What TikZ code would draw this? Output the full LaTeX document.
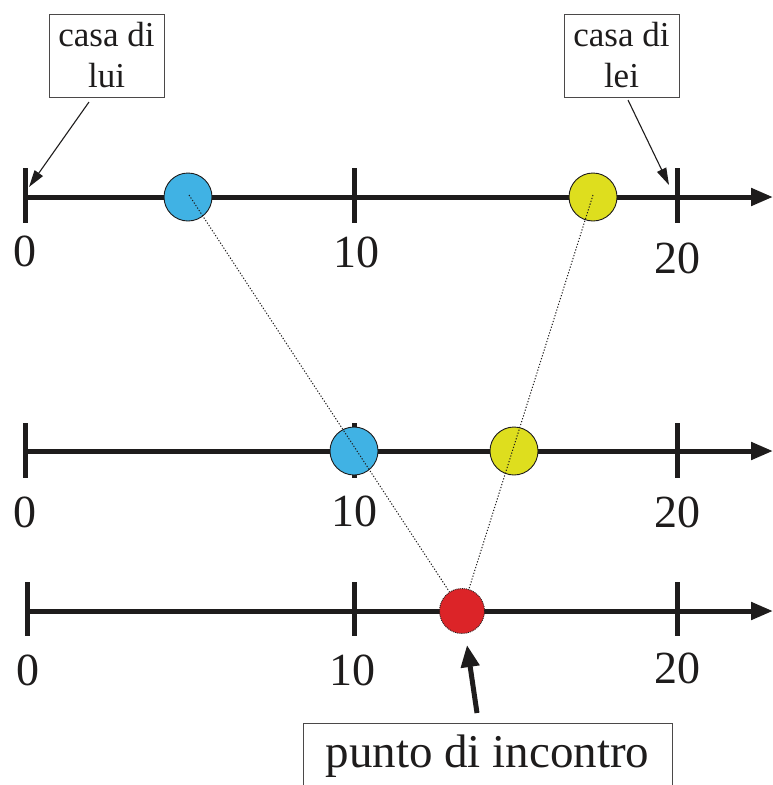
\documentclass[tikz,border=0pt]{standalone}
\usepackage{fontspec}
\setmainfont{Liberation Serif}
\usetikzlibrary{arrows.meta}
\definecolor{ballblue}{RGB}{64,178,228}
\definecolor{ballyellow}{RGB}{222,222,30}
\definecolor{ballred}{RGB}{220,36,40}
\definecolor{ink}{RGB}{30,28,28}
\tikzset{
  axisline/.style={line width=5pt, draw=ink, -{Triangle[length=22pt,width=17pt]}},
  tickline/.style={line width=5pt, draw=ink},
  numlabel/.style={inner sep=0pt, font=\fontsize{46}{50}\selectfont, text=ink},
  ball/.style={circle, minimum size=48pt, inner sep=0pt, draw=ink, line width=0.9pt},
  redball/.style={circle, minimum size=45pt, inner sep=0pt, draw=ink, line width=0.9pt, densely dotted, fill=ballred},
  dotline/.style={draw=ink, line width=1pt, dash pattern=on 1.2pt off 1.8pt},
  housebox/.style={draw=ink!80, line width=1pt, minimum width=115pt, minimum height=83pt, inner sep=0pt, align=center, font=\fontsize{35}{41}\selectfont, text=ink},
  thinarrow/.style={draw=ink, line width=1.1pt, -{Triangle[length=17pt,width=10pt]}},
  bigarrow/.style={draw=ink, line width=5pt, -{Triangle[length=22pt,width=18pt]}},
}
\begin{document}
\begin{tikzpicture}[x=1pt,y=-1pt]
\useasboundingbox (0,0) rectangle (773,785);
% row 1
\coordinate (r1s) at (25,197);
\coordinate (r1e) at (773,197);
\draw[axisline] (r1s) -- (r1e);
\foreach \x/\n in {25/a,354/b,677/c}{
  \coordinate (t1\n top) at (\x,168);
  \coordinate (t1\n bot) at (\x,223);
  \draw[tickline] (t1\n top) -- (t1\n bot);
}
\node[numlabel] (l1a) at (25,251) {0};
\node[numlabel] (l1b) at (356,252) {10};
\node[numlabel] (l1c) at (677,258) {20};
% row 2
\coordinate (r2s) at (25,451);
\coordinate (r2e) at (773,451);
\draw[axisline] (r2s) -- (r2e);
\foreach \x/\n in {25/a,354/b,677/c}{
  \coordinate (t2\n top) at (\x,423);
  \coordinate (t2\n bot) at (\x,478);
  \draw[tickline] (t2\n top) -- (t2\n bot);
}
\node[numlabel] (l2a) at (25,512) {0};
\node[numlabel] (l2b) at (354,511) {10};
\node[numlabel] (l2c) at (677,512) {20};
% row 3
\coordinate (r3s) at (27,611);
\coordinate (r3e) at (773,611);
\draw[axisline] (r3s) -- (r3e);
\foreach \x/\n in {27/a,354/b,677/c}{
  \coordinate (t3\n top) at (\x,582);
  \coordinate (t3\n bot) at (\x,636);
  \draw[tickline] (t3\n top) -- (t3\n bot);
}
\node[numlabel] (l3a) at (28,670) {0};
\node[numlabel] (l3b) at (352,670) {10};
\node[numlabel] (l3c) at (677,668) {20};
% balls
\node[ball, fill=ballblue] (b1) at (188,197) {};
\node[ball, fill=ballyellow] (y1) at (593,197) {};
\node[ball, fill=ballblue] (b2) at (354,451) {};
\node[ball, fill=ballyellow] (y2) at (514,451) {};
\node[redball] (meet) at (462,611) {};
% dotted paths
\coordinate (b1c) at (189,195);
\coordinate (y1c) at (593,195);
\draw[dotline] (b1c) -- (meet);
\draw[dotline] (y1c) -- (meet);
% house labels
\node[housebox] (lui) at (106.5,55.5) {casa di\\lui};
\node[housebox] (lei) at (621.5,55.5) {casa di\\lei};
\coordinate (luiA) at (89,102);
\coordinate (luiB) at (29,187);
\draw[thinarrow] (luiA) -- (luiB);
\coordinate (leiA) at (628,100);
\coordinate (leiB) at (669,185);
\draw[thinarrow] (leiA) -- (leiB);
% meeting point label
\node[draw=ink!80, line width=1pt, minimum width=369pt, minimum height=90pt, anchor=north, inner sep=0pt] (meetbox) at (487.5,723) {};
\node[anchor=base, inner sep=0pt, font=\fontsize{47}{50}\selectfont, text=ink] (meettxt) at (487.5,767) {punto di incontro};
\coordinate (mA) at (477,713);
\coordinate (mB) at (467,645);
\draw[bigarrow] (mA) -- (mB);
\end{tikzpicture}
\end{document}
